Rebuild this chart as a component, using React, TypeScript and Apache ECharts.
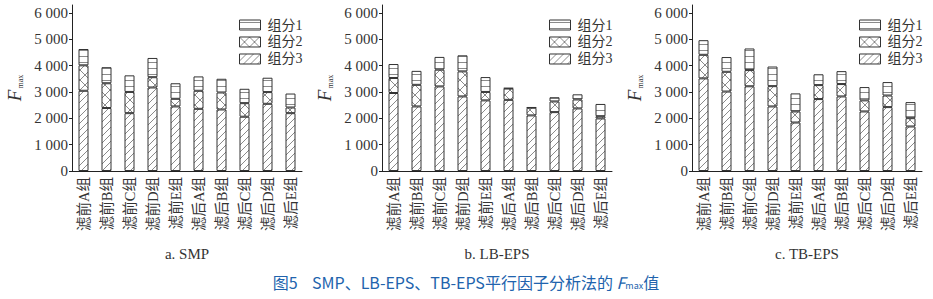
import React, { useEffect, useRef } from "react";
import * as echarts from "echarts";

const categories = ["滤前A组", "滤前B组", "滤前C组", "滤前D组", "滤前E组", "滤后A组", "滤后B组", "滤后C组", "滤后D组", "滤后E组"];
const seriesNames = ["组分1", "组分2", "组分3"];
const yTicks = [0, 1000, 2000, 3000, 4000, 5000, 6000];
const panelTitles = ["a. SMP", "b. LB-EPS", "c. TB-EPS"];

// Panel a: SMP
const smpComp3 = [3045, 2390, 2195, 3170, 2450, 2360, 2335, 2060, 2550, 2195];
const smpComp2 = [965, 940, 805, 390, 290, 685, 645, 515, 445, 215];
const smpComp1 = [620, 610, 630, 730, 590, 545, 520, 545, 545, 530];

// Panel b: LB-EPS
const lbComp3 = [2960, 2450, 3210, 2830, 2680, 2700, 2110, 2235, 2375, 1995];
const lbComp2 = [570, 820, 635, 950, 320, 430, 290, 405, 340, 85];
const lbComp1 = [530, 530, 485, 610, 565, 20, 20, 160, 195, 465];

// Panel c: TB-EPS
const tbComp3 = [3515, 3015, 3215, 2450, 1840, 2730, 2830, 2260, 2425, 1690];
const tbComp2 = [895, 750, 615, 770, 420, 530, 470, 420, 440, 315];
const tbComp1 = [555, 560, 820, 745, 685, 410, 490, 505, 510, 610];

const panels = [
  { title: panelTitles[0], c1: smpComp1, c2: smpComp2, c3: smpComp3 },
  { title: panelTitles[1], c1: lbComp1, c2: lbComp2, c3: lbComp3 },
  { title: panelTitles[2], c1: tbComp1, c2: tbComp2, c3: tbComp3 },
];

const SERIF = "'Liberation Serif', 'DejaVu Serif', 'Noto Sans CJK SC', serif";
const CJK = "'Noto Sans CJK SC', 'Liberation Sans', sans-serif";

function makePattern(kind: string) {
  const c = document.createElement("canvas");
  let w = 8, h = 8;
  if (kind === "h") { w = 8; h = 6; }
  if (kind === "x") { w = 10; h = 10; }
  if (kind === "d") { w = 7; h = 7; }
  c.width = w; c.height = h;
  const ctx = c.getContext("2d")!;
  ctx.fillStyle = "#ffffff";
  ctx.fillRect(0, 0, w, h);
  ctx.strokeStyle = "#8a8a8a";
  ctx.lineWidth = 1;
  ctx.beginPath();
  if (kind === "h") {
    ctx.moveTo(0, 2.5); ctx.lineTo(w, 2.5);
  } else if (kind === "x") {
    ctx.moveTo(0, 0); ctx.lineTo(w, h);
    ctx.moveTo(w, 0); ctx.lineTo(0, h);
  } else {
    ctx.moveTo(-1, h + 1); ctx.lineTo(w + 1, -1);
    ctx.moveTo(-1, 1); ctx.lineTo(1, -1);
    ctx.moveTo(w - 1, h + 1); ctx.lineTo(w + 1, h - 1);
  }
  ctx.stroke();
  return { image: c, repeat: "repeat", imageWidth: w, imageHeight: h } as any;
}

const fmt = (v: number) => {
  if (v === 0) return "0";
  const s = String(v);
  return s.slice(0, s.length - 3) + " " + s.slice(s.length - 3);
};

export default function App() {
  const ref = useRef<HTMLDivElement>(null);
  useEffect(() => {
    if (!ref.current) return;
    const chart = echarts.init(ref.current, null, { renderer: "svg" });
    const pats = [makePattern("h"), makePattern("x"), makePattern("d")];
    const lefts = [72, 382, 692];
    const gridW = 230;
    const grids: any[] = [];
    const xAxes: any[] = [];
    const yAxes: any[] = [];
    const legends: any[] = [];
    const series: any[] = [];
    const graphics: any[] = [];
    panels.forEach((p, i) => {
      grids.push({ left: lefts[i], top: 5, width: gridW, height: 166, outerBoundsMode: "none" });
      xAxes.push({
        type: "category",
        gridIndex: i,
        data: categories,
        axisLine: { lineStyle: { color: "#222", width: 1 } },
        axisTick: { show: false },
        axisLabel: { rotate: 90, interval: 0, margin: 6, fontSize: 14.5, color: "#333", fontFamily: SERIF },
      });
      yAxes.push({
        type: "value",
        gridIndex: i,
        min: 0,
        max: 6300,
        interval: 1000,
        splitLine: { show: false },
        axisLine: { show: true, lineStyle: { color: "#222", width: 1 } },
        axisTick: { show: true, length: 3, customValues: yTicks, lineStyle: { color: "#222" } },
        axisLabel: { customValues: yTicks, formatter: (v: number) => fmt(v), fontSize: 15, color: "#333", fontFamily: SERIF, margin: 4 },
        name: "{f|F}{s|max}",
        nameLocation: "middle",
        nameRotate: 90,
        nameGap: 48,
        nameTextStyle: {
          rich: {
            f: { fontSize: 19, fontStyle: "italic", fontFamily: SERIF, color: "#333", verticalAlign: "bottom" },
            s: { fontSize: 8, fontFamily: SERIF, color: "#333", verticalAlign: "bottom", padding: [0, 0, 0, 1] },
          },
        },
      });
      legends.push({
        orient: "vertical",
        left: lefts[i] + 162,
        top: 13,
        icon: "rect",
        itemWidth: 21,
        itemHeight: 10,
        itemGap: 3,
        data: seriesNames,
        selectedMode: false,
        textStyle: { fontSize: 14, color: "#333", fontFamily: SERIF, padding: [0, 0, 0, 2] },
        itemStyle: { borderColor: "#333", borderWidth: 1 },
      });
      const comps = [p.c3, p.c2, p.c1];
      const patIdx = [2, 1, 0];
      const nameIdx = [2, 1, 0];
      comps.forEach((arr, k) => {
        series.push({
          type: "bar",
          name: seriesNames[nameIdx[k]],
          xAxisIndex: i,
          yAxisIndex: i,
          stack: "s" + i,
          barWidth: 10,
          data: arr,
          itemStyle: { color: pats[patIdx[k]], borderColor: "#333", borderWidth: 1 },
          emphasis: { disabled: true },
        });
      });
      graphics.push({
        type: "text",
        x: lefts[i] + gridW / 2,
        y: 254,
        style: { text: p.title, fontSize: 15, fontFamily: SERIF, fill: "#333", align: "center", verticalAlign: "middle" },
      });
    });
    graphics.push({
      type: "text",
      x: 466,
      y: 282,
      style: {
        text: "{a|图5}{a|    SMP、LB-EPS、TB-EPS平行因子分析法的 }{f|F}{s|max}{a|值}",
        align: "center",
        verticalAlign: "middle",
        rich: {
          a: { fontSize: 16, fontFamily: CJK, fill: "#2163ad", fontWeight: "normal" },
          f: { fontSize: 16, fontFamily: CJK, fontStyle: "italic", fill: "#2163ad", verticalAlign: "bottom" },
          s: { fontSize: 9, fontFamily: CJK, fill: "#2163ad", verticalAlign: "bottom" },
        },
      },
    });
    chart.setOption({
      animation: false,
      backgroundColor: "#ffffff",
      grid: grids,
      xAxis: xAxes,
      yAxis: yAxes,
      legend: legends,
      series,
      graphic: graphics,
    });
    return () => chart.dispose();
  }, []);
  return <div ref={ref} style={{ position: "fixed", left: 0, top: 0, width: 933, height: 299 }} />;
}
